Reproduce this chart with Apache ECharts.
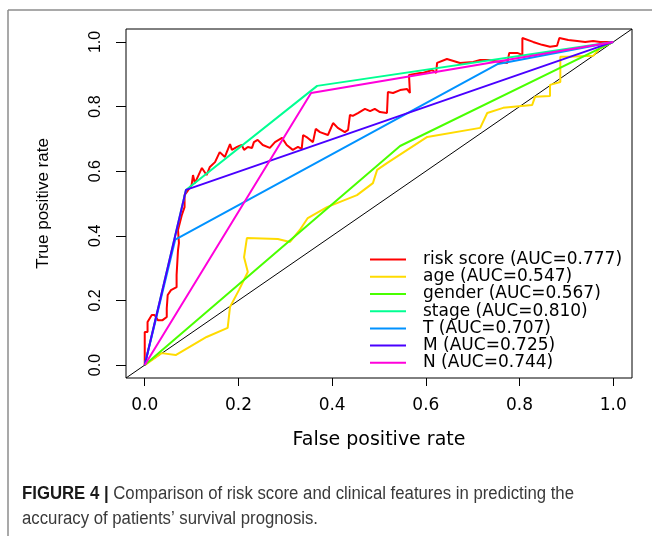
<!DOCTYPE html>
<html><head><meta charset="utf-8">
<script src="https://cdn.jsdelivr.net/npm/echarts@6/dist/echarts.min.js"></script>
<style>html,body{margin:0;padding:0;background:#fff}#c{width:652px;height:536px}</style>
</head><body><div id="c"></div>
<script>
// ---- data ----
const seriesNames = ['risk score (AUC=0.777)','age (AUC=0.547)','gender (AUC=0.567)','stage (AUC=0.810)','T (AUC=0.707)','M (AUC=0.725)','N (AUC=0.744)'];
const seriesColors = ['#FF0000','#FFDB00','#49FF00','#00FF92','#0092FF','#4900FF','#FF00DB'];
const tickValues = [0,0.2,0.4,0.6,0.8,1.0];
const riskScoreROC = [[0,0],[0,0.102],[0.006,0.102],[0.006,0.133],[0.015,0.155],[0.021,0.155],[0.028,0.139],[0.038,0.139],[0.047,0.149],[0.047,0.176],[0.049,0.217],[0.056,0.232],[0.068,0.241],[0.068,0.279],[0.071,0.356],[0.073,0.378],[0.071,0.418],[0.079,0.464],[0.085,0.489],[0.085,0.526],[0.090,0.536],[0.100,0.557],[0.103,0.588],[0.107,0.563],[0.122,0.610],[0.132,0.588],[0.139,0.613],[0.150,0.628],[0.160,0.659],[0.171,0.644],[0.182,0.684],[0.186,0.666],[0.197,0.675],[0.207,0.681],[0.212,0.666],[0.220,0.675],[0.229,0.672],[0.233,0.690],[0.241,0.697],[0.252,0.681],[0.267,0.672],[0.278,0.690],[0.293,0.703],[0.303,0.681],[0.316,0.666],[0.327,0.675],[0.335,0.669],[0.338,0.712],[0.348,0.703],[0.359,0.690],[0.365,0.731],[0.374,0.721],[0.391,0.712],[0.402,0.749],[0.412,0.734],[0.427,0.721],[0.434,0.728],[0.438,0.774],[0.444,0.771],[0.455,0.780],[0.470,0.793],[0.481,0.786],[0.491,0.793],[0.502,0.783],[0.517,0.780],[0.519,0.845],[0.530,0.842],[0.545,0.851],[0.560,0.854],[0.566,0.842],[0.564,0.898],[0.588,0.904],[0.594,0.904],[0.613,0.913],[0.622,0.904],[0.624,0.935],[0.645,0.947],[0.673,0.935],[0.701,0.938],[0.716,0.944],[0.733,0.944],[0.759,0.938],[0.774,0.935],[0.778,0.966],[0.795,0.966],[0.806,0.960],[0.806,1.012],[0.829,1.000],[0.848,0.991],[0.865,0.985],[0.880,0.988],[0.885,1.012],[0.904,1.006],[0.923,1.003],[0.940,1.000],[0.957,1.003],[0.972,1.000],[1,1]];
const ageROC = [[0,0],[0.036,0.037],[0.066,0.031],[0.132,0.087],[0.177,0.115],[0.182,0.180],[0.201,0.232],[0.220,0.288],[0.212,0.334],[0.218,0.393],[0.284,0.390],[0.310,0.381],[0.331,0.418],[0.348,0.455],[0.389,0.489],[0.453,0.526],[0.487,0.563],[0.496,0.604],[0.517,0.625],[0.603,0.706],[0.716,0.734],[0.731,0.780],[0.765,0.796],[0.827,0.805],[0.833,0.830],[0.865,0.833],[0.865,0.867],[0.887,0.876],[0.887,0.954],[0.904,0.954],[0.957,0.957],[0.972,0.981],[1,1]];
const genderROC = [[0,0],[0.545,0.678],[1,1]];
const stageROC = [[0,0],[0.088,0.542],[0.368,0.864],[1,1]];
const tROC = [[0,0],[0.065,0.388],[0.754,0.932],[1,1]];
const mROC = [[0,0],[0.088,0.542],[1,1]];
const nROC = [[0,0],[0.355,0.842],[1,1]];
const axisRange = [-0.04, 1.04];
const captionBold = 'FIGURE 4 |';
const captionLine1 = ' Comparison of risk score and clinical features in predicting the';
const captionLine2 = 'accuracy of patients\u2019 survival prognosis.';
const xTitle = 'False positive rate';
const yTitle = 'True positive rate';

const rocData = [riskScoreROC, ageROC, genderROC, stageROC, tROC, mROC, nROC];

// measure caption to condense it like the reference's narrow face
const cv = document.createElement('canvas').getContext('2d');
cv.font = 'bold 18px "Liberation Sans"';
const wb = cv.measureText(captionBold).width;
cv.font = '18px "Liberation Sans"';
const w1 = cv.measureText(captionLine1).width;
const capScale = 552 / (wb + w1);

const chart = echarts.init(document.getElementById('c'), null, {renderer:'canvas'});
const series = [{
  type:'line', name:'diag', data:[[axisRange[0],axisRange[0]],[axisRange[1],axisRange[1]]],
  showSymbol:false, symbol:'none', silent:true, lineStyle:{color:'#000', width:1}, z:1
}];
seriesNames.forEach((n,i)=>{
  series.push({type:'line', name:n, data:rocData[i], showSymbol:false, symbol:'none',
    color:seriesColors[i], lineStyle:{color:seriesColors[i], width:2}, z:2+i, clip:true});
});

chart.setOption({
  animation:false,
  grid:{left:126, right:20, top:29, bottom:158, show:true, borderColor:'#000', borderWidth:1, backgroundColor:'transparent'},
  xAxis:{type:'value', min:axisRange[0], max:axisRange[1],
    axisLine:{show:false, onZero:false}, splitLine:{show:false},
    axisTick:{show:true, inside:false, customValues:tickValues, length:8, lineStyle:{color:'#000', width:1}},
    axisLabel:{customValues:tickValues, formatter:v=>v.toFixed(1), fontFamily:'DejaVu Sans', fontSize:17, color:'#000', margin:19},
    name:xTitle, nameLocation:'middle', nameGap:53,
    nameTextStyle:{fontFamily:'DejaVu Sans', fontSize:19, color:'#000'}
  },
  yAxis:{type:'value', min:axisRange[0], max:axisRange[1],
    axisLine:{show:false, onZero:false}, splitLine:{show:false},
    axisTick:{show:true, inside:false, customValues:tickValues, length:10, lineStyle:{color:'#000', width:1}},
    axisLabel:{customValues:tickValues, formatter:v=>v.toFixed(1), rotate:90, fontFamily:'Liberation Sans', fontSize:16, color:'#000', margin:22},
    name:yTitle, nameLocation:'middle', nameGap:74, nameRotate:90,
    nameTextStyle:{fontFamily:'Liberation Sans', fontSize:17, color:'#000'}
  },
  legend:{orient:'vertical', left:365, top:246, itemGap:0, icon:'rect', itemWidth:36, itemHeight:2,
    data:seriesNames, selectedMode:false,
    textStyle:{fontFamily:'DejaVu Sans', fontSize:17, color:'#000', lineHeight:17.2, padding:[0,0,0,12]}
  },
  graphic:[
    {type:'line', shape:{x1:8, y1:10, x2:652, y2:10}, style:{stroke:'#8c8c8c', lineWidth:1.5}, silent:true},
    {type:'line', shape:{x1:8, y1:10, x2:8, y2:536}, style:{stroke:'#8c8c8c', lineWidth:1.5}, silent:true},
    {type:'text', x:22, y:482, scaleX:capScale, silent:true,
      style:{text:'{b|'+captionBold+'}'+captionLine1+'\n'+captionLine2, font:'18px "Liberation Sans"', fill:'#3a3a3a', lineHeight:25,
        rich:{b:{font:'bold 18px "Liberation Sans"', fill:'#1a1a1a', lineHeight:25}}}}
  ],
  series:series
});
</script>
</body></html>
